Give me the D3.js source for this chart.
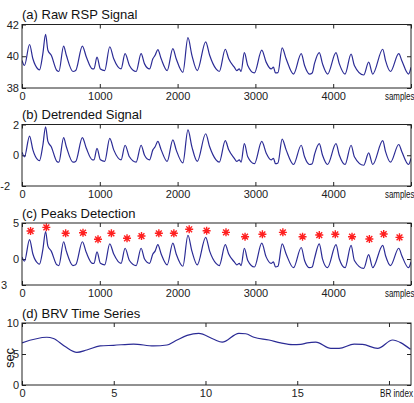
<!DOCTYPE html>
<html>
<head>
<meta charset="utf-8">
<script src="https://d3js.org/d3.v7.min.js"></script>
<style>
body{margin:0;background:#fff;}
svg{display:block;font-family:"Liberation Sans",Arial,sans-serif;}
</style>
</head>
<body>
<svg id="chart" width="414" height="403"></svg>
<script>
// sample index of each vertex (shared by panels a-c)
var sampleIdx = [
	0, 32, 97, 140, 204, 225, 268, 303, 333, 376,
	448, 474, 535, 570, 655, 690, 776, 827, 905, 925,
	964, 1008, 1063, 1128, 1179, 1273, 1325, 1381, 1467, 1531,
	1575, 1639, 1682, 1711, 1746, 1789, 1866, 1939, 1982, 2068,
	2133, 2184, 2253, 2361, 2412, 2494, 2536, 2613, 2657, 2729,
	2760, 2793, 2816, 2858, 2902, 2987, 3082, 3138, 3202, 3232,
	3258, 3290, 3344, 3395, 3490, 3589, 3632, 3696, 3730, 3760,
	3821, 3863, 3928, 4036, 4079, 4152, 4230, 4272, 4392, 4456,
	4508, 4637, 4672, 4736, 4843, 4881, 4968, 5000
];
var rawSignal = [
	39.74, 39.42, 40.74, 39.84, 39.2, 39.14, 40.16, 41.38, 40.38, 40.06,
	39.1, 39.04, 40.64, 40.06, 39.04, 39.1, 40.64, 39.95, 39.2, 39.2,
	39.95, 39.2, 39.1, 40.6, 39.84, 39.2, 40.16, 39.42, 39.04, 40.16,
	39.52, 39.2, 39.84, 40.06, 40.42, 39.84, 39.1, 40.48, 39.84, 38.99,
	41.17, 40.06, 39.1, 40.91, 40.06, 39.2, 39.04, 40.44, 39.84, 39.31,
	39.1, 39.2, 39.04, 40.23, 39.42, 38.95, 40.38, 39.63, 39.2, 39.31,
	38.95, 38.97, 40.53, 39.84, 38.88, 40.16, 39.42, 38.88, 38.95, 39.55,
	40.23, 39.52, 38.88, 40.23, 39.52, 38.88, 40.13, 39.42, 38.82, 39.63,
	38.88, 40.44, 39.74, 39.04, 40.16, 39.74, 38.88, 39.3
];
var detrended = [
	0.2, -0.1, 1.25, 0.35, -0.3, -0.35, 0.65, 1.85, 0.9, 0.55,
	-0.4, -0.45, 1.15, 0.55, -0.45, -0.4, 1.15, 0.45, -0.3, -0.3,
	0.45, -0.3, -0.4, 1.1, 0.35, -0.3, 0.65, -0.1, -0.45, 0.65,
	0.0, -0.3, 0.35, 0.55, 0.9, 0.35, -0.4, 1.0, 0.35, -0.5,
	1.65, 0.55, -0.4, 1.4, 0.55, -0.3, -0.45, 0.95, 0.35, -0.2,
	-0.4, -0.3, -0.45, 0.75, -0.1, -0.55, 0.9, 0.15, -0.3, -0.2,
	-0.55, -0.5, 1.05, 0.35, -0.6, 0.65, -0.1, -0.6, -0.55, 0.05,
	0.75, 0.0, -0.6, 0.75, 0.0, -0.6, 0.65, -0.1, -0.65, 0.15,
	-0.6, 0.95, 0.25, -0.45, 0.7, 0.25, -0.6, -0.2
];
var peakSignal = [
	0.3, -0.3, 2.7, 0.7, -0.6, -0.7, 1.3, 3.8, 1.8, 1.1,
	-0.8, -0.9, 2.4, 1.1, -0.9, -0.8, 2.4, 0.9, -0.6, -0.6,
	1.0, -0.6, -0.8, 2.1, 0.7, -0.6, 1.5, -0.2, -0.9, 1.5,
	0.0, -0.6, 0.7, 1.1, 2.0, 0.7, -0.8, 2.2, 0.7, -1.0,
	3.3, 1.1, -0.8, 3.0, 1.1, -0.6, -0.9, 2.0, 0.7, -0.4,
	-0.8, -0.6, -0.9, 1.5, -0.2, -1.1, 2.2, 0.3, -0.6, -0.4,
	-1.1, -1.0, 2.1, 0.7, -1.2, 1.6, -0.2, -1.2, -1.1, 0.1,
	2.1, 0.0, -1.2, 2.0, 0.0, -1.2, 1.9, -0.2, -1.3, 0.6,
	-1.2, 1.9, 0.5, -0.9, 1.5, 0.5, -1.2, -0.4
];

// detected peaks (red stars)
var peakIdx = [110, 313, 561, 784, 977, 1149, 1350, 1536, 1759, 1952, 2149, 2373,
	2622, 2867, 3090, 3353, 3606, 3821, 4027, 4242, 4465, 4649, 4852];
var peakVal = [3.89, 4.4, 3.57, 3.65, 2.74, 3.57, 2.88, 3.19, 3.57, 3.57, 4.13, 3.93,
	3.7, 3.1, 3.43, 3.7, 3.1, 3.33, 3.43, 3.1, 2.78, 3.47, 3.01];

// breath-to-breath interval series
var brIndex = [0, 1.35, 1.71, 2.35, 2.99, 3.53, 4.26, 4.99, 6.08, 7.17, 7.9, 8.45, 9.0, 9.63,
	10.45, 10.91, 11.82, 12.19, 12.64, 13.46, 14.1, 14.74, 15.19, 15.55, 16.01, 16.83,
	17.28, 18.1, 18.56, 19.38, 20.2, 20.66, 21.17];
var brvSec = [6.8, 7.7, 7.5, 6.2, 5.27, 5.65, 6.3, 6.4, 6.6, 6.3, 6.45, 7.26, 8.0, 8.33,
	7.37, 6.9, 8.33, 8.27, 7.7, 7.26, 6.8, 6.5, 6.55, 6.8, 6.9, 5.9,
	5.9, 6.6, 6.55, 5.9, 7.26, 6.8, 5.75];

// ticks
var sampleTicks = [0, 1000, 2000, 3000, 4000, 5000];
var sampleTickLabels = ["0", "1000", "2000", "3000", "4000", ""];
var brTicks = [0, 5, 10, 15, 20];
var brTickLabels = ["0", "5", "10", "15", ""];
var rawTicks = [38, 40, 42], rawTickLabels = ["38", "40", "42"];
var detTicks = [-2, 0, 2], detTickLabels = ["-2", "0", "2"];
var peakTicks = [-3.6, 0, 5], peakTickLabels = ["3", "0", "5"];
var brvTicks = [0, 5, 10], brvTickLabels = ["0", "5", "10"];

var svg = d3.select("#chart");
var left = 22, right = 411;
var lineColor = "#2b2b95";
var axisColor = "#222";

var panels = [
	{title: "(a) Raw RSP Signal", titleY: 18.5, top: 24.5, bottom: 88,
		xDomain: [0, 5000], xTicks: sampleTicks, xLabels: sampleTickLabels, xName: "samples", xNameX: 385, xNameScale: 0.72,
		yDomain: [38, 42], yTicks: rawTicks, yLabels: rawTickLabels, yShift: [0, 0, 0],
		xs: sampleIdx, ys: rawSignal},
	{title: "(b) Detrended Signal", titleY: 118.5, top: 124.5, bottom: 186,
		xDomain: [0, 5000], xTicks: sampleTicks, xLabels: sampleTickLabels, xName: "samples", xNameX: 385, xNameScale: 0.72,
		yDomain: [-2, 2], yTicks: detTicks, yLabels: detTickLabels, yShift: [-9, 0, 0],
		xs: sampleIdx, ys: detrended},
	{title: "(c) Peaks Detection", titleY: 217.5, top: 223, bottom: 285,
		xDomain: [0, 5000], xTicks: sampleTicks, xLabels: sampleTickLabels, xName: "samples", xNameX: 385, xNameScale: 0.72,
		yDomain: [-3.6, 5], yTicks: peakTicks, yLabels: peakTickLabels, yShift: [-12, 0, 0],
		xs: sampleIdx, ys: peakSignal, stars: true},
	{title: "(d) BRV Time Series", titleY: 318, top: 323, bottom: 385,
		xDomain: [0, 21.2], xTicks: brTicks, xLabels: brTickLabels, xName: "BR index", xNameX: 380, xNameScale: 0.74,
		yDomain: [0, 10], yTicks: brvTicks, yLabels: brvTickLabels, yShift: [0, 0, 0],
		xs: brIndex, ys: brvSec, yName: "sec"}
];

function styleAxis(g){
	g.select(".domain").remove();
	g.attr("font-family", null).attr("font-size", 11).attr("color", axisColor);
}

function drawPanel(p, idx){
	var g = svg.append("g");
	var x = d3.scaleLinear().domain(p.xDomain).range([left, right]);
	var y = d3.scaleLinear().domain(p.yDomain).range([p.bottom, p.top]);

	g.append("text")
		.attr("x", left)
		.attr("y", p.titleY)
		.attr("font-size", 13)
		.attr("fill", "#111")
		.text(p.title);

	g.append("g")
		.attr("transform", "translate(0," + p.bottom + ")")
		.call(d3.axisBottom(x).tickValues(p.xTicks).tickSizeInner(-4).tickSizeOuter(0).tickPadding(4)
			.tickFormat(function(d, i){ return p.xLabels[i]; }))
		.call(styleAxis);
	g.append("g")
		.attr("transform", "translate(0," + p.top + ")")
		.call(d3.axisTop(x).tickValues(p.xTicks).tickSizeInner(-4).tickSizeOuter(0).tickFormat(""))
		.call(styleAxis);

	var yl = g.append("g")
		.attr("transform", "translate(" + left + ",0)")
		.call(d3.axisLeft(y).tickValues(p.yTicks).tickSizeInner(-4).tickSizeOuter(0).tickPadding(3)
			.tickFormat(function(d, i){ return p.yLabels[i]; }))
		.call(styleAxis);
	yl.selectAll(".tick text").attr("dx", function(d, i){ return p.yShift[i]; });
	g.append("g")
		.attr("transform", "translate(" + right + ",0)")
		.call(d3.axisRight(y).tickValues(p.yTicks).tickSizeInner(-4).tickSizeOuter(0).tickFormat(""))
		.call(styleAxis);

	// narrow axis name at the right end (squeezed horizontally like the original)
	g.append("text")
		.attr("transform", "translate(" + p.xNameX + "," + (p.bottom + 12) + ") scale(" + p.xNameScale + ",1)")
		.attr("font-size", 11)
		.attr("fill", "#111")
		.text(p.xName);

	if (p.yName) {
		g.append("text")
			.attr("transform", "translate(14," + ((p.top + p.bottom) / 2 + 4) + ") rotate(-90)")
			.attr("text-anchor", "middle")
			.attr("font-size", 13)
			.attr("fill", "#111")
			.text(p.yName);
	}

	g.append("clipPath").attr("id", "clip" + idx)
		.append("rect")
		.attr("x", left).attr("y", p.top)
		.attr("width", right - left).attr("height", p.bottom - p.top);

	var pts = p.xs.map(function(v, i){ return [v, p.ys[i]]; });
	var line = d3.line()
		.x(function(d){ return x(d[0]); })
		.y(function(d){ return y(d[1]); })
		.curve(d3.curveMonotoneX);
	g.append("path")
		.attr("clip-path", "url(#clip" + idx + ")")
		.attr("d", line(pts))
		.attr("fill", "none")
		.attr("stroke", lineColor)
		.attr("stroke-width", 1.2);

	if (p.stars) {
		var r = 4, q = 2.9;
		g.selectAll("path.star")
			.data(peakIdx.map(function(v, i){ return [v, peakVal[i]]; }))
			.enter()
			.append("path")
			.attr("class", "star")
			.attr("transform", function(d){ return "translate(" + x(d[0]) + "," + y(d[1]) + ")"; })
			.attr("d", "M" + (-r) + ",0H" + r + "M0," + (-r) + "V" + r +
				"M" + (-q) + "," + (-q) + "L" + q + "," + q + "M" + (-q) + "," + q + "L" + q + "," + (-q))
			.attr("stroke", "#ff2020")
			.attr("stroke-width", 1.4)
			.attr("fill", "none");
	}

	g.append("rect")
		.attr("x", left).attr("y", p.top)
		.attr("width", right - left).attr("height", p.bottom - p.top)
		.attr("fill", "none")
		.attr("stroke", axisColor)
		.attr("stroke-width", 1);
}

panels.forEach(drawPanel);
</script>
</body>
</html>
